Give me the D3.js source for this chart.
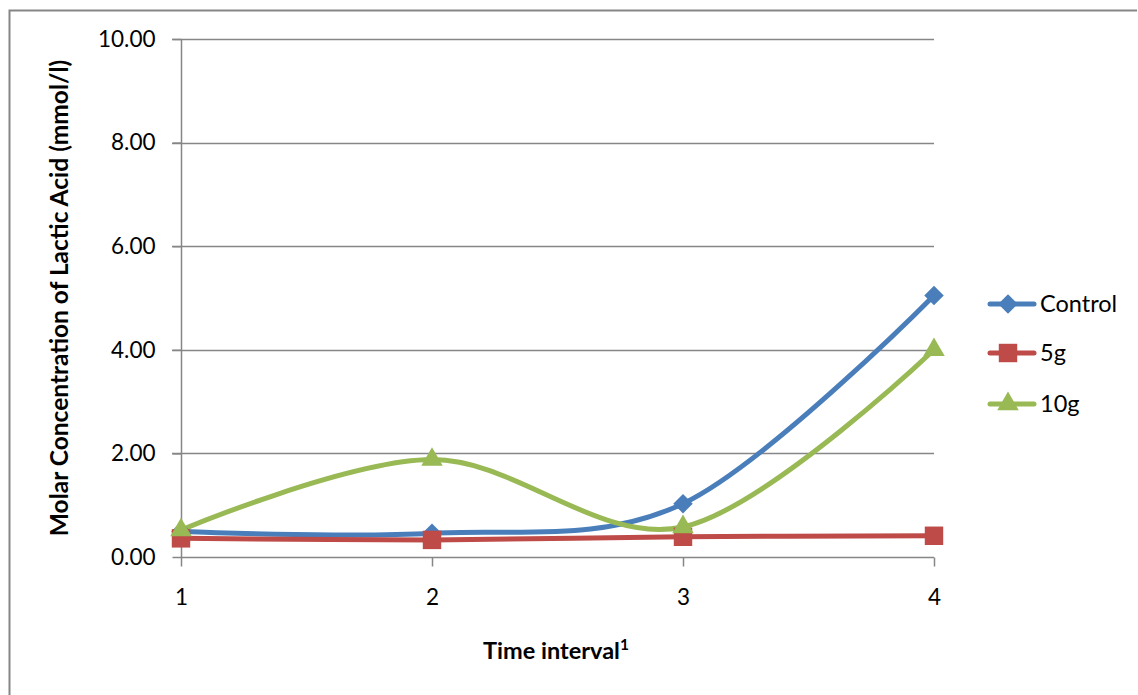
<!DOCTYPE html>
<html>
<head>
<meta charset="utf-8">
<script src="https://cdn.jsdelivr.net/npm/d3@7/dist/d3.min.js"></script>
<style>
  html, body { margin: 0; padding: 0; background: #fff; }
  svg { display: block; font-family: Lato, "Open Sans", sans-serif; }
</style>
</head>
<body>
<svg id="chart" width="1138" height="695"></svg>
<script>
// Time intervals on the category axis
const categories = ["1", "2", "3", "4"];

// Lactic acid concentration (mmol/l) per treatment
const controlValues = [0.49, 0.46, 1.03, 5.05];
const fiveGValues   = [0.36, 0.33, 0.39, 0.41];
const tenGValues    = [0.52, 1.88, 0.58, 4.00];

const seriesNames = ["Control", "5g", "10g"];
const yTicks = [0, 2, 4, 6, 8, 10];

// Rotated-square diamond marker
const diamond = {
  draw(ctx, size) {
    const r = Math.sqrt(size / 2);
    ctx.moveTo(0, -r); ctx.lineTo(r, 0); ctx.lineTo(0, r); ctx.lineTo(-r, 0); ctx.closePath();
  }
};

const series = [
  { name: seriesNames[0], values: controlValues, color: "#4a7ebb", symbol: diamond,           size: 190 },
  { name: seriesNames[1], values: fiveGValues,   color: "#be4b48", symbol: d3.symbolSquare,   size: 340 },
  { name: seriesNames[2], values: tenGValues,    color: "#98b954", symbol: d3.symbolTriangle, size: 200 }
];

const svg = d3.select("#chart");
const grey = "#868686";
const fontSize = 22.5;

// Chart frame (left and top edges)
svg.append("path")
  .attr("d", "M9.5,700 V10.5 H1137")
  .attr("fill", "none")
  .attr("stroke", grey)
  .attr("stroke-width", 2);

const x = d3.scalePoint().domain(categories).range([181, 934]);
const y = d3.scaleLinear().domain([0, 10]).range([557, 39]);

// Horizontal gridlines
svg.append("g")
  .selectAll("line")
  .data(yTicks.filter(d => d > 0))
  .join("line")
  .attr("x1", 172).attr("x2", 934)
  .attr("y1", d => Math.round(y(d)) + 0.5).attr("y2", d => Math.round(y(d)) + 0.5)
  .attr("stroke", grey).attr("stroke-width", 1.5);

// Y axis
const yAxis = svg.append("g")
  .attr("transform", "translate(181.5,0)")
  .call(d3.axisLeft(y).tickValues(yTicks).tickFormat(d3.format(".2f")).tickSize(9).tickPadding(17));
yAxis.select(".domain").attr("stroke", grey).attr("stroke-width", 1.5).attr("d", `M0,${y(10)}V${y(0)}`);
yAxis.selectAll(".tick line").attr("stroke", grey).attr("stroke-width", 1.5);
yAxis.selectAll(".tick text").attr("font-size", fontSize).attr("fill", "#000").attr("font-family", "Lato, sans-serif");

// X axis
const xAxis = svg.append("g")
  .attr("transform", `translate(0,${Math.round(y(0)) + 0.5})`)
  .call(d3.axisBottom(x).tickSize(9).tickPadding(23));
xAxis.select(".domain").attr("stroke", grey).attr("stroke-width", 1.5).attr("d", `M${x("1")},0H${x("4")}`);
xAxis.selectAll(".tick line").attr("stroke", grey).attr("stroke-width", 1.5);
xAxis.selectAll(".tick text").attr("font-size", fontSize).attr("fill", "#000").attr("font-family", "Lato, sans-serif");

// Axis titles
const xTitle = svg.append("text")
  .attr("x", 556).attr("y", 659)
  .attr("text-anchor", "middle")
  .attr("font-size", 23.5).attr("font-weight", "bold");
xTitle.append("tspan").text("Time interval");
xTitle.append("tspan").attr("font-size", 15.5).attr("dy", -9).text("1");

svg.append("text")
  .attr("transform", "translate(68,298) rotate(-90)")
  .attr("text-anchor", "middle")
  .attr("font-size", 24.5).attr("font-weight", "bold")
  .text("Molar Concentration of Lactic Acid (mmol/l)");

// Smoothed series lines
const line = d3.line()
  .x((d, i) => x(categories[i]))
  .y(d => y(d))
  .curve(d3.curveCardinal.tension(0));

const plot = svg.append("g");
series.forEach(s => {
  plot.append("path")
    .attr("d", line(s.values))
    .attr("fill", "none")
    .attr("stroke", s.color)
    .attr("stroke-width", 5)
    .attr("stroke-linejoin", "round")
    .attr("stroke-linecap", "round");
});
series.forEach(s => {
  plot.append("g")
    .selectAll("path")
    .data(s.values)
    .join("path")
    .attr("transform", (d, i) => `translate(${x(categories[i])},${y(d)})`)
    .attr("d", d3.symbol(s.symbol, s.size))
    .attr("fill", s.color);
});

// Legend
const legend = svg.append("g");
const legendY = [304, 353, 404];
series.forEach((s, i) => {
  const g = legend.append("g").attr("transform", `translate(0,${legendY[i]})`);
  g.append("line").attr("x1", 990).attr("x2", 1034).attr("y1", 0).attr("y2", 0)
    .attr("stroke", s.color).attr("stroke-width", 5).attr("stroke-linecap", "round");
  g.append("path").attr("transform", "translate(1008,0)")
    .attr("d", d3.symbol(s.symbol, s.size)).attr("fill", s.color);
  g.append("text").attr("x", 1040).attr("y", 8).attr("font-size", 23.5).text(s.name);
});
</script>
</body>
</html>
